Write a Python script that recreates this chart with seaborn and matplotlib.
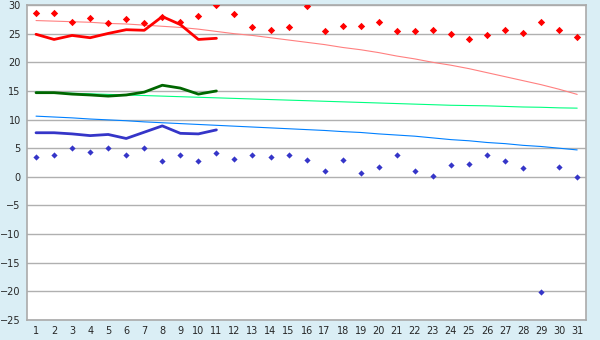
import matplotlib
matplotlib.use("Agg")
import matplotlib.pyplot as plt
import seaborn as sns
import numpy as np

days = list(range(1, 32))
max_pts = [28.7, 28.7, 27.1, 27.7, 26.8, 27.5, 26.9, 28.0, 27.1, 28.1,
           30.0, 28.4, 26.1, 25.7, 26.1, 29.9, 25.4, 26.4, 26.3, 27.0,
           25.4, 25.4, 25.7, 24.9, 24.0, 24.7, 25.7, 25.2, 27.0, 25.6, 24.4]
min_pts = [3.5, 3.9, 5.0, 4.4, 5.0, 3.9, 5.0, 2.8, 3.75, 2.7,
           4.1, 3.05, 3.9, 3.4, 3.9, 2.9, 0.95, 2.9, 0.6, 1.65,
           3.9, 1.1, 0.1, 2.0, 2.2, 3.9, 2.7, 1.5, -20.2, 1.65, 0.0]
cur_days = list(range(1, 12))
cur_max = [24.9, 24.0, 24.7, 24.3, 25.05, 25.7, 25.6, 28.0, 26.6, 24.0, 24.2]
cur_mean = [14.7, 14.7, 14.45, 14.3, 14.1, 14.3, 14.8, 16.0, 15.5, 14.45, 15.0]
cur_min = [7.7, 7.7, 7.5, 7.2, 7.4, 6.7, 7.8, 8.9, 7.6, 7.5, 8.2]
trend_max = [27.3, 27.2, 27.1, 27.0, 26.8, 26.7, 26.5, 26.3, 26.1, 25.8,
             25.4, 25.0, 24.7, 24.3, 23.9, 23.5, 23.1, 22.6, 22.2, 21.7,
             21.1, 20.6, 20.0, 19.5, 18.9, 18.2, 17.5, 16.8, 16.1, 15.3, 14.4]
trend_mean = [14.8, 14.7, 14.6, 14.5, 14.4, 14.3, 14.2, 14.1, 14.0, 13.9,
              13.8, 13.7, 13.6, 13.5, 13.4, 13.3, 13.2, 13.1, 13.0, 12.9,
              12.8, 12.7, 12.6, 12.5, 12.45, 12.4, 12.3, 12.2, 12.15, 12.05, 12.0]
trend_min = [10.6, 10.45, 10.3, 10.1, 9.95, 9.8, 9.6, 9.45, 9.3, 9.15,
             9.0, 8.85, 8.7, 8.55, 8.4, 8.25, 8.1, 7.9, 7.75, 7.5,
             7.3, 7.1, 6.8, 6.5, 6.3, 6.0, 5.8, 5.5, 5.3, 5.0, 4.7]
y_ticks = list(range(-25, 31, 5))

bg = "#daeef5"
sns.set_style("white")
fig = plt.figure(figsize=(6, 3.4), dpi=100, facecolor=bg)
ax = fig.add_axes([0.045, 0.059, 0.932, 0.926])
ax.set_facecolor("white")

for y in y_ticks:
    ax.axhline(y, color="#b0b0b0", lw=1.0, zorder=0)

sns.lineplot(x=days, y=trend_max, color="#ff8080", lw=0.8, ax=ax)
sns.lineplot(x=days, y=trend_mean, color="#00ff80", lw=0.8, ax=ax)
sns.lineplot(x=days, y=trend_min, color="#0080ff", lw=0.8, ax=ax)
sns.lineplot(x=cur_days, y=cur_max, color="#ff0000", lw=2.0, ax=ax)
sns.lineplot(x=cur_days, y=cur_mean, color="#006600", lw=2.0, ax=ax)
sns.lineplot(x=cur_days, y=cur_min, color="#3535c8", lw=2.0, ax=ax)
sns.scatterplot(x=days, y=max_pts, color="#ff0000", marker="D", s=14,
                linewidth=0, ax=ax, zorder=5)
sns.scatterplot(x=days, y=min_pts, color="#3535c8", marker="D", s=10,
                linewidth=0, ax=ax, zorder=5)

ax.set_xlim(0.5, 31.5)
ax.set_ylim(-25, 30)
ax.set_xticks(days)
ax.set_yticks(y_ticks)
ax.tick_params(axis="both", labelsize=7, length=3, width=1, color="#000000",
               pad=1.5, direction="out")
for s in ax.spines.values():
    s.set_color("#aaaaaa")
    s.set_linewidth(1.2)
ax.set_xlabel("")
ax.set_ylabel("")
fig.savefig("out.png", dpi=100, facecolor=bg)
